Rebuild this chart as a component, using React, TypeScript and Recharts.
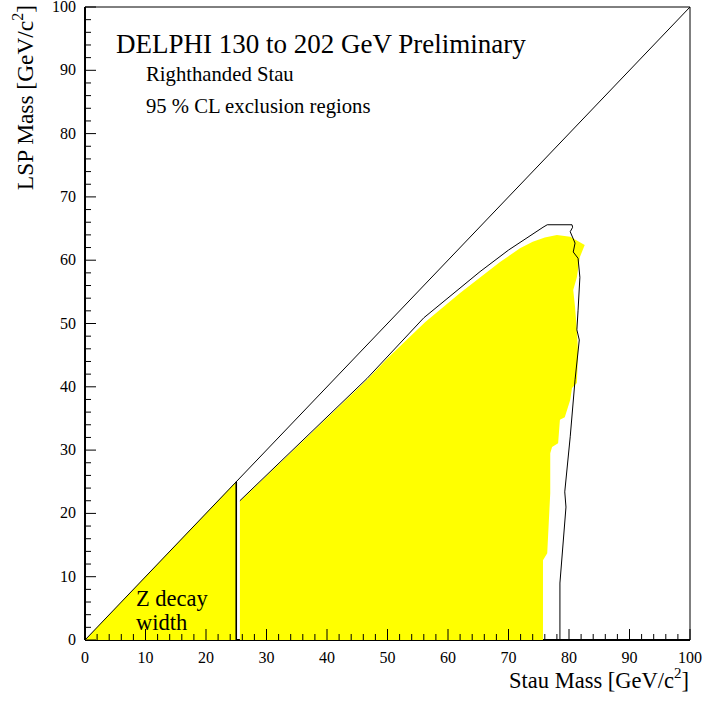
import React from "react";
import { ComposedChart, XAxis, YAxis, Scatter, ReferenceArea } from "recharts";

// kinematic limit m(LSP) = m(stau)
const diagonal = [
  { x: 0, y: 0 },
  { x: 100, y: 100 },
];

// region excluded by the Z width
const zWidthRegion = [
  { x: 0, y: 0 },
  { x: 25, y: 25 },
  { x: 25, y: 0 },
];

const zWidthEdge = [
  { x: 25, y: 0 },
  { x: 25, y: 25 },
];

// observed exclusion (yellow)
const exclusionRegion = [
  { x: 25.6, y: 0 },
  { x: 25.6, y: 21.9 },
  { x: 35, y: 30.5 },
  { x: 46.6, y: 41.1 },
  { x: 50, y: 44.5 },
  { x: 56.2, y: 50.2 },
  { x: 62, y: 54.8 },
  { x: 68.6, y: 59.7 },
  { x: 71.9, y: 61.9 },
  { x: 74, y: 62.9 },
  { x: 76, y: 63.6 },
  { x: 78, y: 64.0 },
  { x: 80.2, y: 63.7 },
  { x: 82.6, y: 62.4 },
  { x: 81.8, y: 60.5 },
  { x: 81.3, y: 57.3 },
  { x: 80.7, y: 55.3 },
  { x: 81, y: 52.6 },
  { x: 81.3, y: 49 },
  { x: 81.5, y: 45.3 },
  { x: 81.3, y: 40.6 },
  { x: 80.5, y: 39.8 },
  { x: 80.2, y: 37.9 },
  { x: 79.3, y: 35.2 },
  { x: 78.5, y: 34.8 },
  { x: 78.2, y: 31.1 },
  { x: 77.2, y: 30.5 },
  { x: 76.9, y: 29.5 },
  { x: 76.9, y: 23.2 },
  { x: 76.4, y: 13.7 },
  { x: 75.7, y: 12.6 },
  { x: 75.7, y: 0 },
];

// black contour
const contour = [
  { x: 25.6, y: 22.0 },
  { x: 46.6, y: 41.3 },
  { x: 56, y: 50.9 },
  { x: 65.3, y: 58.2 },
  { x: 70, y: 61.6 },
  { x: 75.7, y: 65.2 },
  { x: 76.4, y: 65.6 },
  { x: 80.5, y: 65.6 },
  { x: 80.6, y: 65.2 },
  { x: 80.2, y: 64.5 },
  { x: 81, y: 62.7 },
  { x: 80.7, y: 61.3 },
  { x: 81.5, y: 60.3 },
  { x: 81.8, y: 57.3 },
  { x: 81.5, y: 52.1 },
  { x: 81.3, y: 49 },
  { x: 81.7, y: 47.4 },
  { x: 81, y: 41.1 },
  { x: 80.2, y: 32.1 },
  { x: 79.3, y: 23.4 },
  { x: 79.5, y: 21 },
  { x: 78.5, y: 9 },
  { x: 78.5, y: 0 },
];

const ticks = [
  0, 2, 4, 6, 8, 10, 12, 14, 16, 18, 20, 22, 24, 26, 28, 30, 32, 34, 36, 38,
  40, 42, 44, 46, 48, 50, 52, 54, 56, 58, 60, 62, 64, 66, 68, 70, 72, 74, 76,
  78, 80, 82, 84, 86, 88, 90, 92, 94, 96, 98, 100,
];

const FONT = "'Liberation Serif', 'Times New Roman', serif";

const noDot = () => <g />;

const fillShape = (color: string) => (props: any) => (
  <polygon
    points={props.points.map((p: any) => `${p.x},${p.y}`).join(" ")}
    fill={color}
    stroke="none"
  />
);

const XTick = ({ x, y, payload }: any) => {
  const major = payload.value % 10 === 0;
  return (
    <g>
      <line x1={x} x2={x} y1={y} y2={y - (major ? 11 : 6)} stroke="#000" />
      {major && (
        <text x={x} y={y + 23} textAnchor="middle" fontSize={16} fontFamily={FONT} fill="#000">
          {payload.value}
        </text>
      )}
    </g>
  );
};

const YTick = ({ x, y, payload }: any) => {
  const major = payload.value % 10 === 0;
  return (
    <g>
      <line x1={x} x2={x + (major ? 11 : 6)} y1={y} y2={y} stroke="#000" />
      {major && (
        <text x={x - 9} y={y + 5} textAnchor="end" fontSize={16} fontFamily={FONT} fill="#000">
          {payload.value}
        </text>
      )}
    </g>
  );
};

export default function App() {
  return (
    <div style={{ position: "absolute", left: 0, top: 0, width: 704, height: 701, background: "#fff" }}>
      <ComposedChart width={704} height={701} margin={{ top: 7, right: 14, left: 0, bottom: 0 }}>
        <XAxis
          type="number"
          dataKey="x"
          domain={[0, 100]}
          ticks={ticks}
          interval={0}
          height={61}
          tickSize={0}
          tickMargin={0}
          tickLine={false}
          tick={<XTick />}
          axisLine={{ stroke: "#000", strokeWidth: 2 }}
          allowDataOverflow
        />
        <YAxis
          type="number"
          dataKey="y"
          domain={[0, 100]}
          ticks={ticks}
          interval={0}
          width={85}
          tickSize={0}
          tickMargin={0}
          tickLine={false}
          tick={<YTick />}
          axisLine={{ stroke: "#000", strokeWidth: 2 }}
          allowDataOverflow
        />
        <Scatter data={zWidthRegion} shape={noDot} line={fillShape("#ffff00")} isAnimationActive={false} />
        <Scatter data={exclusionRegion} shape={noDot} line={fillShape("#ffff00")} isAnimationActive={false} />
        <Scatter data={diagonal} shape={noDot} line={{ stroke: "#000", strokeWidth: 1 }} isAnimationActive={false} />
        <Scatter data={zWidthEdge} shape={noDot} line={{ stroke: "#000", strokeWidth: 1.6 }} isAnimationActive={false} />
        <Scatter data={contour} shape={noDot} line={{ stroke: "#000", strokeWidth: 1 }} isAnimationActive={false} />
        <ReferenceArea x1={0} x2={100} y1={0} y2={100} fill="none" fillOpacity={0} stroke="#000" strokeWidth={1} />
      </ComposedChart>
      <svg
        width={704}
        height={701}
        style={{ position: "absolute", left: 0, top: 0, pointerEvents: "none" }}
        fontFamily={FONT}
        fill="#000"
      >
        <text x={116} y={53} fontSize={27}>DELPHI 130 to 202 GeV Preliminary</text>
        <text x={146} y={81} fontSize={20.7}>Righthanded Stau</text>
        <text x={146} y={113} fontSize={20.7}>95 % CL exclusion regions</text>
        <text x={136} y={606} fontSize={22.5}>Z decay</text>
        <text x={136} y={630} fontSize={22.5}>width</text>
        <text x={689} y={688} fontSize={22.5} textAnchor="end">
          Stau Mass [GeV/c<tspan dy={-10} fontSize={15}>2</tspan>
          <tspan dy={10}>]</tspan>
        </text>
        <text x={33} y={5} fontSize={23.4} textAnchor="end" transform="rotate(-90 33 5)">
          LSP Mass [GeV/c<tspan dy={-10} fontSize={16}>2</tspan>
          <tspan dy={10}>]</tspan>
        </text>
      </svg>
    </div>
  );
}
